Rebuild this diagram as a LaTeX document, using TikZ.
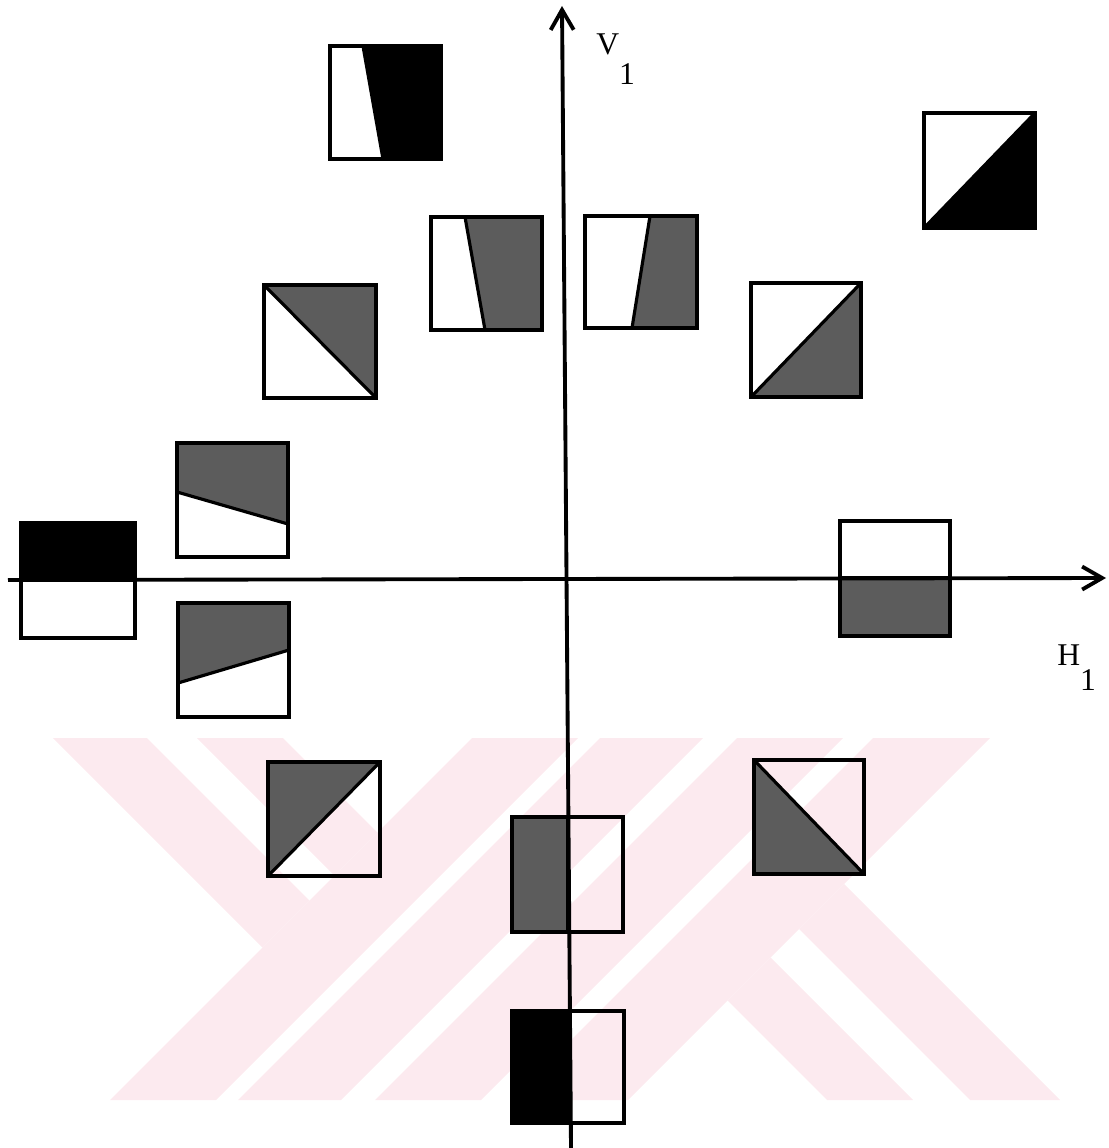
\documentclass[tikz,border=0pt]{standalone}
\usepackage{fontspec}
\setmainfont{Liberation Serif}
\usetikzlibrary{arrows.meta}
\definecolor{wmpink}{RGB}{252,234,239}

\begin{document}
\begin{tikzpicture}[x=0.2mm, y=-0.2mm,
  frame/.style={draw, line width=1.8pt},
  cut/.style={draw, line width=1.8pt, line join=bevel},
  hatchpart/.style={fill=black!64},
  darkpart/.style={fill=black},
  wmark/.style={fill=wmpink},
  axis/.style={line width=2.2pt, -{Straight Barb[length=4mm, width=4.6mm]}},
  lab/.style={font=\fontsize{18}{20}\selectfont, inner sep=0pt}]
  \useasboundingbox (0,0) rectangle (1109,1148);

  % Watermark stripes
  \foreach \a/\b in {1210/1316, 1338/1441, 1475/1581, 1611/1728} {
    \fill[wmark] ({\a-738},738) -- ({\b-738},738) -- ({\b-1100},1100) -- ({\a-1100},1100) -- cycle;
  }
  \foreach \c/\d in {-685/-591, -541/-455} {
    \fill[wmark] ({\c+738},738) -- ({\d+738},738) -- ({(1210+\d)/2},{(1210-\d)/2}) -- ({(1210+\c)/2},{(1210-\c)/2}) -- cycle;
  }
  \foreach \c/\d in {-273/-187, -130/-40} {
    \fill[wmark] ({(1728+\c)/2},{(1728-\c)/2}) -- ({(1728+\d)/2},{(1728-\d)/2}) -- ({\d+1100},1100) -- ({\c+1100},1100) -- cycle;
  }

  % Filled parts
  \path[darkpart, cut] (363,46) -- (441,46) -- (441,159) -- (383,159) -- cycle;
  \path[hatchpart, cut] (465,217) -- (542,217) -- (542,330) -- (485,330) -- cycle;
  \path[hatchpart, cut] (650,216) -- (697,216) -- (697,328) -- (632,328) -- cycle;
  \path[darkpart, cut] (924,228) -- (1035,113) -- (1035,228) -- cycle;
  \path[hatchpart, cut] (751,397) -- (861,283) -- (861,397) -- cycle;
  \path[hatchpart, cut] (264,285) -- (376,285) -- (376,398) -- cycle;
  \path[hatchpart, cut] (177,443) -- (288,443) -- (288,524) -- (177,492) -- cycle;
  \path[darkpart, cut] (21,523) -- (135,523) -- (135,580) -- (21,580) -- cycle;
  \path[hatchpart, cut] (178,603) -- (289,603) -- (289,650) -- (178,683) -- cycle;
  \path[hatchpart, cut] (840,578) -- (950,578) -- (950,636) -- (840,636) -- cycle;
  \path[hatchpart, cut] (268,762) -- (380,762) -- (268,876) -- cycle;
  \path[hatchpart, cut] (754,760) -- (864,874) -- (754,874) -- cycle;
  \path[hatchpart, cut] (512,817) -- (568,817) -- (568,932) -- (512,932) -- cycle;
  \path[darkpart, cut] (512,1011) -- (570,1011) -- (570,1123) -- (512,1123) -- cycle;

  % Frames
  \foreach \x/\y/\X/\Y in {330/46/441/159, 431/217/542/330, 585/216/697/328,
      924/113/1035/228, 751/283/861/397, 264/285/376/398, 177/443/288/557,
      21/523/135/638, 178/603/289/717, 840/521/950/636, 268/762/380/876,
      754/760/864/874, 512/817/623/932, 512/1011/624/1123} {
    \draw[frame] (\x,\y) rectangle (\X,\Y);
  }

  % Axes
  \coordinate (hstart) at (8,580);
  \coordinate (hend) at (1106,578);
  \coordinate (vstart) at (571,1148);
  \coordinate (vend) at (562,6);
  \draw[axis] (hstart) -- (hend);
  \draw[axis] (vstart) -- (vend);

  \node[lab, anchor=base west] (vlabel) at (596,55) {V\raisebox{-6mm}{1}};
  \node[lab, anchor=base west] (hlabel) at (1057,665) {H\raisebox{-5mm}{1}};
\end{tikzpicture}
\end{document}
